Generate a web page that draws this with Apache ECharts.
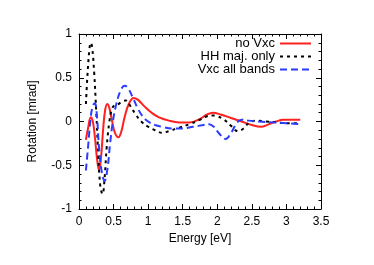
<!DOCTYPE html>
<html><head><meta charset="utf-8">
<script src="https://cdn.jsdelivr.net/npm/echarts@6/dist/echarts.min.js"></script>
<style>html,body{margin:0;padding:0;background:#fff}#c{width:374px;height:265px}</style>
</head><body><div id="c"></div>
<script>
var seriesNames = ['no Vxc', 'HH maj. only', 'Vxc all bands'];
var xTicks = [0, 0.5, 1, 1.5, 2, 2.5, 3, 3.5];
var yTicks = [-1, -0.5, 0, 0.5, 1];
var noVxc = [[0.10,-0.21],[0.13,-0.08],[0.17,0.05],[0.20,0.0],[0.23,-0.18],[0.26,-0.42],[0.29,-0.56],[0.32,-0.40],[0.35,-0.08],[0.38,0.14],[0.41,0.20],[0.44,0.15],[0.48,0.00],[0.52,-0.13],[0.57,-0.18],[0.61,-0.12],[0.66,0.05],[0.72,0.20],[0.79,0.27],[0.85,0.25],[0.95,0.17],[1.05,0.10],[1.15,0.05],[1.3,0.01],[1.45,-0.01],[1.6,-0.01],[1.75,0.03],[1.85,0.08],[1.94,0.10],[2.05,0.08],[2.2,0.04],[2.35,0.0],[2.5,-0.04],[2.63,-0.06],[2.75,-0.03],[2.85,0.0],[2.95,0.02],[3.05,0.02],[3.2,0.02]];
var hhMaj = [[0.10,0.20],[0.12,0.50],[0.15,0.82],[0.17,0.90],[0.19,0.85],[0.22,0.55],[0.25,0.10],[0.28,-0.40],[0.31,-0.75],[0.34,-0.83],[0.37,-0.65],[0.40,-0.30],[0.44,0.00],[0.48,0.15],[0.52,0.19],[0.57,0.20],[0.62,0.23],[0.68,0.24],[0.74,0.18],[0.82,0.08],[0.9,0.00],[1.0,-0.06],[1.1,-0.10],[1.2,-0.13],[1.3,-0.11],[1.45,-0.07],[1.6,-0.03],[1.75,0.02],[1.85,0.06],[1.93,0.07],[2.0,0.06],[2.1,0.02],[2.2,-0.05],[2.3,-0.11],[2.38,-0.08],[2.45,-0.02],[2.55,0.01],[2.7,0.0],[2.85,-0.01],[3.0,-0.02],[3.2,-0.02]];
var vxcAll = [[0.10,-0.56],[0.13,-0.30],[0.17,0.05],[0.20,0.18],[0.23,0.21],[0.26,0.05],[0.29,-0.30],[0.33,-0.58],[0.37,-0.68],[0.41,-0.55],[0.45,-0.25],[0.49,0.00],[0.54,0.20],[0.60,0.35],[0.66,0.41],[0.71,0.38],[0.78,0.27],[0.85,0.15],[0.92,0.06],[1.0,0.00],[1.1,-0.04],[1.2,-0.06],[1.35,-0.08],[1.5,-0.08],[1.65,-0.06],[1.8,-0.04],[1.88,-0.03],[1.95,-0.06],[2.03,-0.14],[2.12,-0.20],[2.2,-0.13],[2.28,-0.02],[2.35,0.02],[2.45,0.01],[2.6,0.0],[2.8,-0.01],[3.0,-0.02],[3.2,-0.03]];

var font = 'Liberation Sans, Arial, sans-serif';
function mkX(pos, labels) {
  return {
    type: 'value', position: pos, min: xTicks[0], max: xTicks[xTicks.length-1], interval: 0.5,
    name: labels ? 'Energy [eV]' : '', nameLocation: 'middle', nameGap: 24,
    nameTextStyle: {color: '#000', fontSize: 12, fontFamily: font},
    axisLine: {show: true, onZero: false, lineStyle: {color: '#000', width: 1}},
    axisTick: {show: true, inside: true, length: 5, lineStyle: {color: '#000'}},
    minorTick: {show: true, splitNumber: 5, length: 2.5, lineStyle: {color: '#000'}},
    axisLabel: {show: labels, color: '#000', fontSize: 12, fontFamily: font, margin: 7,
      formatter: function(v){ return String(v); }},
    splitLine: {show: false}
  };
}
function mkY(pos, labels) {
  return {
    type: 'value', position: pos, min: yTicks[0], max: yTicks[yTicks.length-1], interval: 0.5,
    name: labels ? 'Rotation [mrad]' : '', nameLocation: 'middle', nameGap: 40,
    nameTextStyle: {color: '#000', fontSize: 12, fontFamily: font},
    axisLine: {show: true, onZero: false, lineStyle: {color: '#000', width: 1}},
    axisTick: {show: true, inside: true, length: 5, lineStyle: {color: '#000'}},
    minorTick: {show: true, splitNumber: 5, length: 2.5, lineStyle: {color: '#000'}},
    axisLabel: {show: labels, color: '#000', fontSize: 12, fontFamily: font, margin: 7,
      formatter: function(v){ return String(v); }},
    splitLine: {show: false}
  };
}
var chart = echarts.init(document.getElementById('c'), null, {renderer: 'canvas'});
chart.setOption({
  animation: false,
  grid: {left: 79, right: 53, top: 34, bottom: 56},
  xAxis: [mkX('bottom', true), mkX('top', false)],
  yAxis: [mkY('left', true), mkY('right', false)],
  legend: {
    orient: 'vertical', right: 57, top: 37, align: 'right', itemGap: 0,
    itemWidth: 31, itemHeight: 12, padding: [0, 5, 0, 0],
    itemStyle: {opacity: 0},
    textStyle: {color: '#000', fontSize: 13, fontFamily: font, lineHeight: 12.5},
    data: seriesNames
  },
  series: [
    {name: seriesNames[0], type: 'line', data: noVxc, smooth: 0.4, symbol: 'none',
     lineStyle: {color: '#ff2020', width: 2}, itemStyle: {color: '#ff2020'}},
    {name: seriesNames[1], type: 'line', data: hhMaj, smooth: 0.4, symbol: 'none',
     lineStyle: {color: '#000', width: 2, type: [3, 4]}, itemStyle: {color: '#000'}},
    {name: seriesNames[2], type: 'line', data: vxcAll, smooth: 0.4, symbol: 'none',
     lineStyle: {color: '#2a3cff', width: 2, type: [7, 4]}, itemStyle: {color: '#2a3cff'}}
  ]
});
</script></body></html>
